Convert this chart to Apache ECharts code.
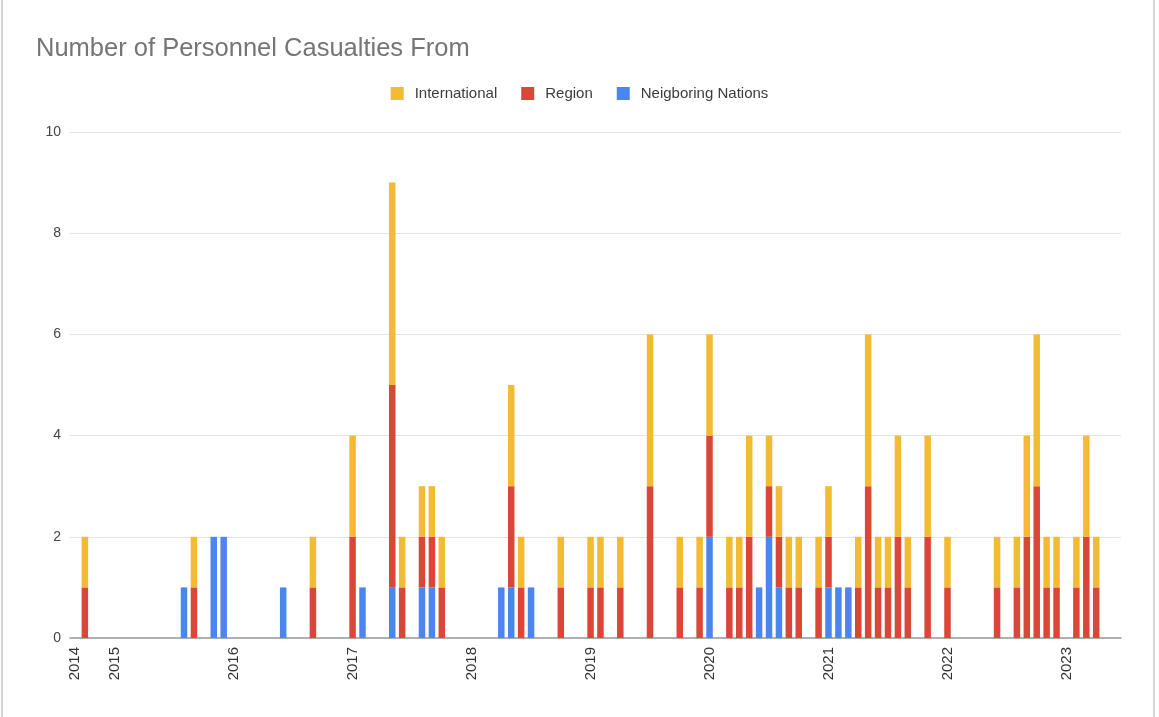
<!DOCTYPE html>
<html>
<head>
<meta charset="utf-8">
<script src="https://cdn.jsdelivr.net/npm/echarts@6/dist/echarts.min.js"></script>
<style>
  html, body { margin: 0; padding: 0; background: #ffffff; }
  #wrap { position: relative; width: 1159px; height: 717px; }
  #chart { position: absolute; left: 0; top: 0; width: 1159px; height: 717px; }
  #frame { position: absolute; left: 1px; top: 0; width: 1154px; height: 717px;
           border-left: 2px solid #d4d4d4; border-right: 2px solid #d4d4d4; box-sizing: border-box; pointer-events: none; }
</style>
</head>
<body>
<div id="wrap"><div id="chart"></div><div id="frame"></div></div>
<script>
// Axis range (monthly categories)
const firstMonth = '2014-09';
const lastMonth = '2023-06';

// Months that have casualties
const months = [
  '2014-10','2015-08','2015-09','2015-11','2015-12','2016-06','2016-09',
  '2017-01','2017-02','2017-05','2017-06','2017-08','2017-09','2017-10',
  '2018-04','2018-05','2018-06','2018-07','2018-10',
  '2019-01','2019-02','2019-04','2019-07','2019-10','2019-12',
  '2020-01','2020-03','2020-04','2020-05','2020-06','2020-07','2020-08','2020-09','2020-10','2020-12',
  '2021-01','2021-02','2021-03','2021-04','2021-05','2021-06','2021-07','2021-08','2021-09','2021-11',
  '2022-01','2022-06','2022-08','2022-09','2022-10','2022-11','2022-12',
  '2023-02','2023-03','2023-04'
];
const neighboring = [
  0,1,0,2,2,1,0,
  0,1,1,0,1,1,0,
  1,1,0,1,0,
  0,0,0,0,0,0,
  2,0,0,0,1,2,1,0,0,0,
  1,1,1,0,0,0,0,0,0,0,
  0,0,0,0,0,0,0,
  0,0,0
];
const region = [
  1,0,1,0,0,0,1,
  2,0,4,1,1,1,1,
  0,2,1,0,1,
  1,1,1,3,1,1,
  2,1,1,2,0,1,1,1,1,1,
  1,0,0,1,3,1,1,2,1,2,
  1,1,1,2,3,1,1,
  1,2,1
];
const international = [
  1,0,1,0,0,0,1,
  2,0,4,1,1,1,1,
  0,2,1,0,1,
  1,1,1,3,1,1,
  2,1,1,2,0,1,1,1,1,1,
  1,0,0,1,3,1,1,2,1,2,
  1,1,1,2,3,1,1,
  1,2,1
];
const seriesNames = ['International', 'Region', 'Neigboring Nations'];
const yTicks = [0, 2, 4, 6, 8, 10];

// Build monthly category list for the axis
const categories = [];
{
  let y = +firstMonth.slice(0, 4), m = +firstMonth.slice(5, 7);
  const ey = +lastMonth.slice(0, 4), em = +lastMonth.slice(5, 7);
  while (y < ey || (y === ey && m <= em)) {
    categories.push(y + '-' + String(m).padStart(2, '0'));
    m++; if (m > 12) { m = 1; y++; }
  }
}
function expand(vals) {
  const map = {};
  months.forEach((mo, i) => { if (vals[i]) map[mo] = vals[i]; });
  return categories.map(c => (c in map ? map[c] : null));
}

const chart = echarts.init(document.getElementById('chart'), null, { renderer: 'canvas' });
const font = 'Liberation Sans, Arial, sans-serif';
chart.setOption({
  animation: false,
  textStyle: { fontFamily: font },
  title: {
    text: 'Number of Personnel Casualties From',
    left: 36, top: 36, padding: 0,
    textStyle: { fontFamily: font, fontSize: 25.5, fontWeight: 'normal', color: '#757575' }
  },
  legend: {
    data: seriesNames,
    top: 86, left: 'center', padding: 0,
    icon: 'rect', itemWidth: 13, itemHeight: 13, itemGap: 24,
    textStyle: { fontFamily: font, fontSize: 15, color: '#3c3c3c', padding: [0, 0, 0, 6] }
  },
  grid: { left: 70, right: 38, top: 132, bottom: 79, containLabel: false },
  xAxis: {
    type: 'category',
    data: categories,
    boundaryGap: true,
    axisTick: { show: false },
    axisLine: { lineStyle: { color: '#9a9a9a', width: 1.5 } },
    axisLabel: {
      rotate: 90,
      margin: 9,
      fontSize: 15,
      color: '#333',
      fontFamily: font,
      interval: (idx, val) => idx === 0 || val.slice(5) === '01',
      formatter: val => val.slice(0, 4)
    },
    splitLine: { show: false }
  },
  yAxis: {
    type: 'value',
    min: yTicks[0], max: yTicks[yTicks.length - 1], interval: 2,
    axisLine: { show: false },
    axisTick: { show: false },
    axisLabel: { fontSize: 14, color: '#444', margin: 9, fontFamily: font },
    splitLine: { lineStyle: { color: '#e3e3e3', width: 1 } }
  },
  series: [
    { name: 'Neigboring Nations', type: 'bar', stack: 'total', barWidth: 6.5,
      itemStyle: { color: '#4A86EE' }, data: expand(neighboring) },
    { name: 'Region', type: 'bar', stack: 'total', barWidth: 6.5,
      itemStyle: { color: '#DA4638' }, data: expand(region) },
    { name: 'International', type: 'bar', stack: 'total', barWidth: 6.5,
      itemStyle: { color: '#F3BA33' }, data: expand(international) }
  ]
});
</script>
</body>
</html>
